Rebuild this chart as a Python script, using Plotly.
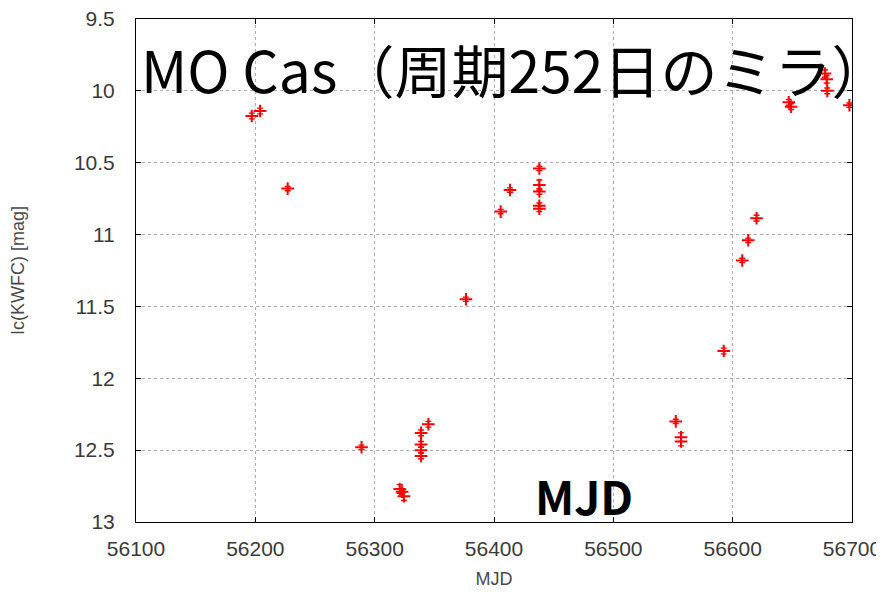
import plotly.graph_objects as go

# Observations: MJD, Ic magnitude, error
mjd = [56197.0, 56204.0, 56227.1, 56289.0, 56321.0, 56323.0, 56324.5,
       56338.9, 56338.9, 56338.9, 56338.9, 56345.0, 56376.5,
       56405.6, 56413.4, 56438.0, 56438.0, 56438.0, 56438.0, 56438.0,
       56552.3, 56556.7, 56556.7, 56592.5, 56608.0, 56613.0, 56620.0,
       56647.0, 56649.0, 56677.4, 56678.8, 56679.3, 56697.8]
mag = [10.175, 10.14, 10.68, 12.48, 12.77, 12.79, 12.82,
       12.38, 12.46, 12.50, 12.54, 12.32, 11.45,
       10.84, 10.69, 10.54, 10.655, 10.70, 10.80, 10.82,
       12.30, 12.41, 12.44, 11.81, 11.18, 11.04, 10.886,
       10.08, 10.11, 9.88, 9.92, 10.00, 10.10]
err = [0.02, 0.02, 0.015, 0.015, 0.03, 0.02, 0.03,
       0.02, 0.02, 0.02, 0.02, 0.02, 0.015,
       0.015, 0.015, 0.015, 0.035, 0.02, 0.02, 0.02,
       0.015, 0.03, 0.03, 0.02, 0.015, 0.015, 0.02,
       0.02, 0.02, 0.025, 0.025, 0.02, 0.015]

x_ticks = [56100, 56200, 56300, 56400, 56500, 56600, 56700]
x_tick_text = ["56100", "56200", "56300", "56400", "56500", "56600", "56700"]
y_ticks = [9.5, 10, 10.5, 11, 11.5, 12, 12.5, 13]
y_tick_text = ["9.5", "10", "10.5", "11", "11.5", "12", "12.5", "13"]

title_text = "MO Cas（周期252日のミラ）"
overlay_label = "MJD"
x_title = "MJD"
y_title = "Ic(KWFC) [mag]"

fig = go.Figure()
fig.add_trace(go.Scatter(
    x=mjd, y=mag, mode="markers",
    marker=dict(symbol="cross-thin", size=9, color="red",
                line=dict(color="red", width=2)),
    error_y=dict(type="data", array=err, visible=True, color="red",
                 thickness=1.4, width=3),
    showlegend=False,
))

tick_font = dict(family="Liberation Sans, Arial, sans-serif", size=21, color="#3a3a3a")
title_font = dict(family="Liberation Sans, Arial, sans-serif", size=18, color="#4a4a4a")

axis_common = dict(
    showline=True, linecolor="black", linewidth=1, mirror="ticks",
    ticks="inside", ticklen=5, tickcolor="black",
    showgrid=True, gridcolor="#b0b0b0", griddash="dot", gridwidth=1,
    zeroline=False, automargin=False, ticklabeloverflow="allow",
    tickfont=tick_font,
)

fig.update_xaxes(range=[56100, 56700], tickvals=x_ticks, ticktext=x_tick_text,
                 ticklabelstandoff=8,
                 title=dict(text=x_title, font=title_font, standoff=20),
                 **axis_common)
fig.update_yaxes(range=[13, 9.5], tickvals=y_ticks, ticktext=y_tick_text,
                 ticklabelstandoff=16,
                 title=dict(text=y_title, font=title_font, standoff=49),
                 **axis_common)

fig.add_annotation(text=title_text, xref="paper", yref="paper",
                   x=0.0, y=1.0, xanchor="left", yanchor="top",
                   xshift=3, yshift=-6,
                   showarrow=False,
                   font=dict(family="Noto Sans CJK JP", size=57, color="black"))
fig.add_annotation(text=overlay_label, xref="x", yref="y",
                   x=56475, y=12.81, xanchor="center", yanchor="middle",
                   showarrow=False,
                   font=dict(family="Noto Sans CJK JP", size=46, color="black", weight="bold"))

fig.update_layout(
    width=876, height=581,
    margin=dict(l=128, r=32, t=11, b=67),
    paper_bgcolor="white", plot_bgcolor="white",
)

fig.write_html("out.html")
